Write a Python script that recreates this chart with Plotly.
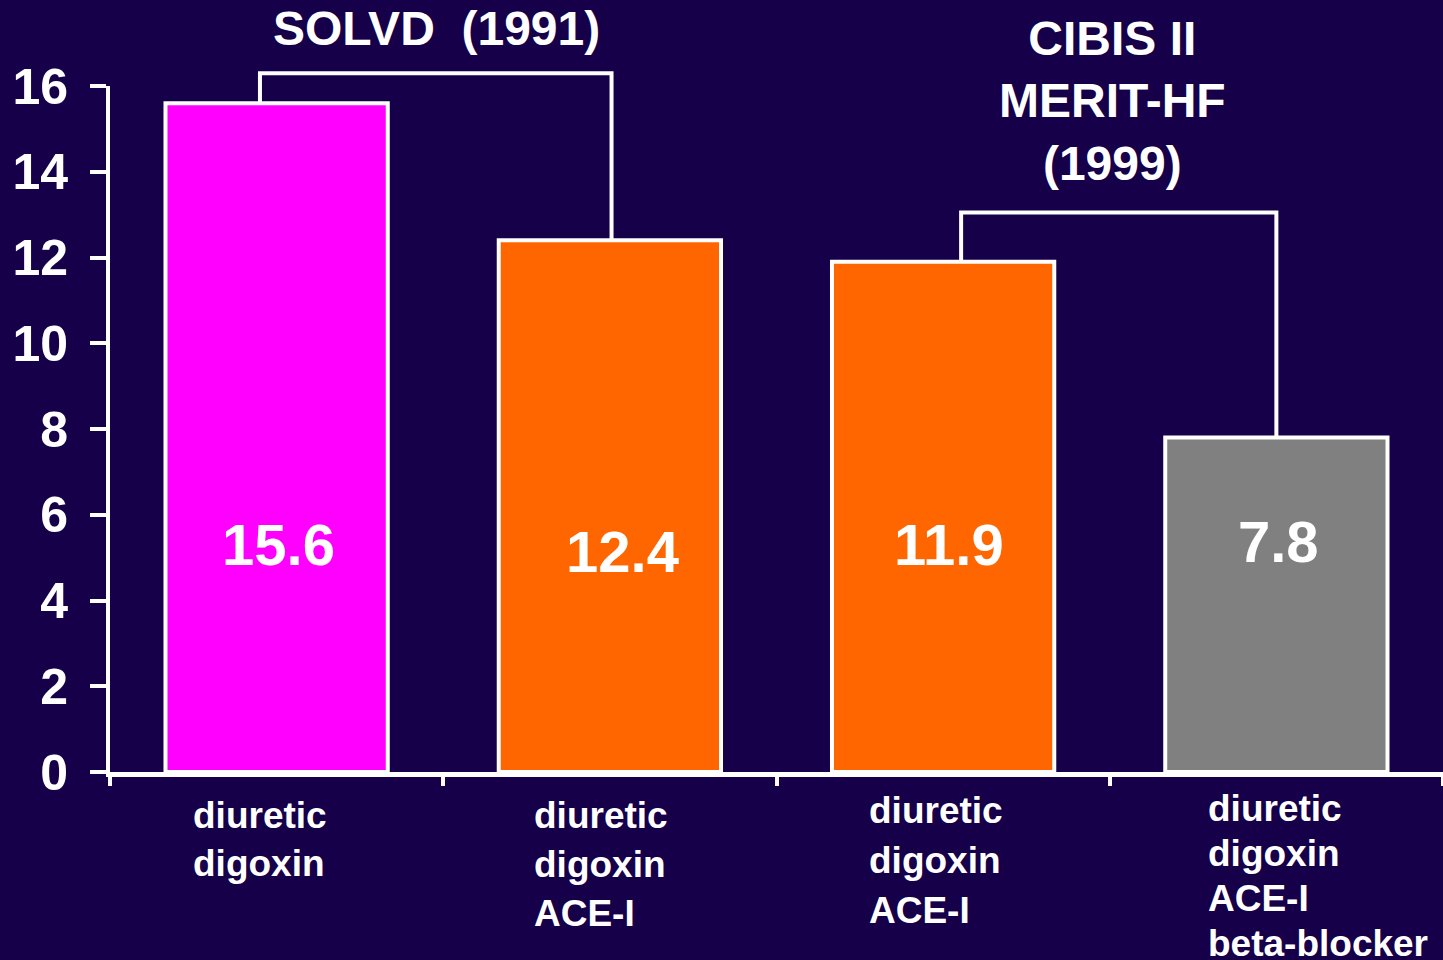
import plotly.graph_objects as go

# dati del grafico
categorie = ["diuretic<br>digoxin", "diuretic<br>digoxin<br>ACE-I",
             "diuretic<br>digoxin<br>ACE-I", "diuretic<br>digoxin<br>ACE-I<br>beta-blocker"]
valori = [15.6, 12.4, 11.9, 7.8]
etichette_valori = ["15.6", "12.4", "11.9", "7.8"]
colori = ["#FF00FF", "#FF6600", "#FF6600", "#808080"]
studi = ["SOLVD  (1991)", "CIBIS II<br>MERIT-HF<br>(1999)"]
coppie_studi = [(0, 1), (2, 3)]
tick_y = [0, 2, 4, 6, 8, 10, 12, 14, 16]
Y_MAX = 16

SFONDO = "#16004A"
FONT = "Liberation Sans, Arial, sans-serif"

x_pos = list(range(len(valori)))

fig = go.Figure()
fig.add_trace(go.Bar(
    x=x_pos, y=valori,
    marker=dict(color=colori, line=dict(color="white", width=4)),
    width=0.667, hoverinfo="skip",
))

# valori dentro le barre
shift_val = [(2, 0), (13, -7), (6, 0), (2, 3)]
for i, (v, t) in enumerate(zip(valori, etichette_valori)):
    fig.add_annotation(x=i, y=5.3, text=t, showarrow=False,
                       xshift=shift_val[i][0], yshift=shift_val[i][1],
                       font=dict(size=58, color="white", family=FONT, weight="bold"))

# etichette categorie (allineate a sinistra)
off_cat = [-86, -78, -76, -70]
y_cat = [793, 793, 788, 786]
interlinea = [48, 49, 50, 45]
for i, lab in enumerate(categorie):
    for j, riga in enumerate(lab.split("<br>")):
        fig.add_annotation(x=i, xshift=off_cat[i], xanchor="left",
                           y=0, yref="y", yanchor="middle",
                           yshift=-(y_cat[i] + 22 + j * interlinea[i] - 772),
                           text=riga, showarrow=False, align="left",
                           font=dict(size=37, color="white", family=FONT, weight="bold"))

# parentesi dei confronti (yref paper per non essere tagliate)
alt_parentesi = [16.3, 13.05]
dx_parentesi = [(-0.05, 0.005), (0.054, 0.0)]
for (a, b), h, (da, db) in zip(coppie_studi, alt_parentesi, dx_parentesi):
    xa, xb = a + da, b + db
    ya, yb, yh = valori[a] / Y_MAX, valori[b] / Y_MAX, h / Y_MAX
    fig.add_shape(type="path", xref="x", yref="paper",
                  path=f"M {xa} {ya} L {xa} {yh} L {xb} {yh} L {xb} {yb}",
                  line=dict(color="white", width=4))

# titoli degli studi
pos_studi = [(0.48, 17.33), (2.507, 15.65)]
for s, (px, py) in zip(studi, pos_studi):
    fig.add_annotation(x=px, y=py / Y_MAX, yref="paper", yanchor="middle",
                       text=s, showarrow=False,
                       font=dict(size=48, color="white", family=FONT, weight="bold"))

fig.update_layout(
    width=1443, height=960,
    paper_bgcolor=SFONDO, plot_bgcolor=SFONDO,
    margin=dict(l=110, r=0, t=86, b=188),
    showlegend=False,
    font=dict(family=FONT, color="white"),
    xaxis=dict(range=[-0.5, 3.5], showgrid=False, zeroline=False,
               showline=True, linecolor="white", linewidth=5,
               tickmode="array", tickvals=[-0.5, 0.5, 1.5, 2.5, 3.5], ticktext=[""] * 5,
               ticks="outside", ticklen=9, tickwidth=4, tickcolor="white"),
    yaxis=dict(range=[0, Y_MAX], showgrid=False, zeroline=False,
               showline=True, linecolor="white", linewidth=4,
               tickvals=tick_y, ticks="outside", ticklen=16, tickwidth=4, tickcolor="white",
               ticklabelstandoff=12,
               tickfont=dict(size=50, color="white", family=FONT, weight="bold")),
)

fig.write_html("out.html", config={"displayModeBar": False},
               post_script="document.body.style.margin='0';")
